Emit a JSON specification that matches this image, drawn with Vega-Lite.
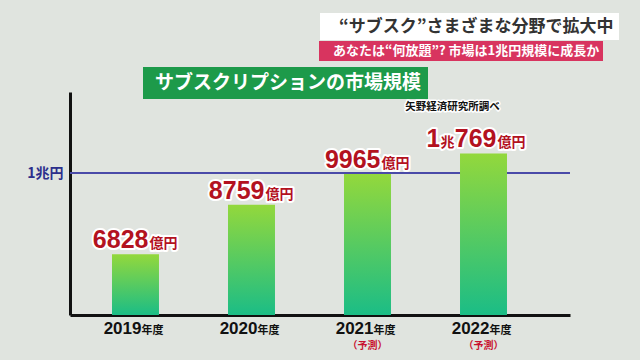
{
  "$schema": "https://vega.github.io/schema/vega-lite/v6.json",
  "width": 500,
  "height": 223,
  "autosize": "none",
  "padding": {"left": 70, "top": 92, "right": 70, "bottom": 45},
  "background": "#e0e4df",
  "config": {"view": {"stroke": null}, "font": "Noto Sans CJK JP"},
  "datasets": {
    "market": [
      {"year": "2019", "value": 6828, "num": "6828", "pre1": "", "pre2": "", "note": ""},
      {"year": "2020", "value": 8759, "num": "8759", "pre1": "", "pre2": "", "note": ""},
      {"year": "2021", "value": 9965, "num": "9965", "pre1": "", "pre2": "", "note": "（予測）"},
      {"year": "2022", "value": 10769, "num": "769", "pre1": "1", "pre2": "兆", "note": "（予測）"}
    ],
    "headers": [
      {"box": "サブスクリプションの市場規模", "head": "“サブスク”さまざまな分野で拡大中", "sub": "あなたは“何放題”? 市場は1兆円規模に成長か"}
    ],
    "source": [{"src": "矢野経済研究所調べ"}]
  },
  "data": {"name": "market"},
  "layer": [
    {
      "mark": {"type": "rule", "color": "#4a4aa8", "strokeWidth": 1.5},
      "encoding": {"y": {"datum": 10000}}
    },
    {
      "mark": {
        "type": "bar",
        "color": {"gradient": "linear", "x1": 0, "y1": 0, "x2": 0, "y2": 1,
          "stops": [{"offset": 0, "color": "#93d83c"}, {"offset": 1, "color": "#1bbd86"}]}
      },
      "encoding": {
        "x": {"field": "year", "type": "nominal", "sort": null,
          "scale": {"paddingInner": 0.595, "paddingOuter": 0.4526, "align": 0.4},
          "axis": {"labels": false, "ticks": false, "title": null, "domainColor": "#111", "domainWidth": 3}},
        "y": {"field": "value", "type": "quantitative",
          "scale": {"domain": [4450, 13170], "zero": false, "nice": false},
          "axis": {"values": [10000], "labelExpr": "'1兆円'", "ticks": false, "grid": false, "title": null,
            "domainColor": "#111", "domainWidth": 3, "labelColor": "#2c2f8c", "labelFontSize": 14,
            "labelFontWeight": "bold", "labelPadding": 7, "labelFont": "Noto Sans CJK JP"}},
        "y2": {"datum": 4450}
      }
    },
    {
      "mark": {"type": "text", "align": "right", "baseline": "alphabetic", "dx": 13, "dy": -6,
        "font": "Liberation Sans", "fontWeight": "bold", "fontSize": 25,
        "fill": "#b3121f", "stroke": "white", "strokeWidth": 4, "strokeJoin": "round"},
      "encoding": {"x": {"field": "year", "type": "nominal", "sort": null}, "y": {"field": "value", "type": "quantitative"}, "text": {"field": "num"}}
    },
    {
      "mark": {"type": "text", "align": "right", "baseline": "alphabetic", "dx": 13, "dy": -6,
        "font": "Liberation Sans", "fontWeight": "bold", "fontSize": 25, "fill": "#b3121f"},
      "encoding": {"x": {"field": "year", "type": "nominal", "sort": null}, "y": {"field": "value", "type": "quantitative"}, "text": {"field": "num"}}
    },
    {
      "mark": {"type": "text", "align": "right", "baseline": "alphabetic", "dx": -43, "dy": -6,
        "font": "Liberation Sans", "fontWeight": "bold", "fontSize": 25,
        "fill": "#b3121f", "stroke": "white", "strokeWidth": 4, "strokeJoin": "round"},
      "encoding": {"x": {"field": "year", "type": "nominal", "sort": null}, "y": {"field": "value", "type": "quantitative"}, "text": {"field": "pre1"}}
    },
    {
      "mark": {"type": "text", "align": "right", "baseline": "alphabetic", "dx": -43, "dy": -6,
        "font": "Liberation Sans", "fontWeight": "bold", "fontSize": 25, "fill": "#b3121f"},
      "encoding": {"x": {"field": "year", "type": "nominal", "sort": null}, "y": {"field": "value", "type": "quantitative"}, "text": {"field": "pre1"}}
    },
    {
      "mark": {"type": "text", "align": "right", "baseline": "alphabetic", "dx": -29, "dy": -6,
        "font": "Noto Sans CJK JP", "fontWeight": "bold", "fontSize": 14,
        "fill": "#b3121f", "stroke": "white", "strokeWidth": 4, "strokeJoin": "round"},
      "encoding": {"x": {"field": "year", "type": "nominal", "sort": null}, "y": {"field": "value", "type": "quantitative"}, "text": {"field": "pre2"}}
    },
    {
      "mark": {"type": "text", "align": "right", "baseline": "alphabetic", "dx": -29, "dy": -6,
        "font": "Noto Sans CJK JP", "fontWeight": "bold", "fontSize": 14, "fill": "#b3121f"},
      "encoding": {"x": {"field": "year", "type": "nominal", "sort": null}, "y": {"field": "value", "type": "quantitative"}, "text": {"field": "pre2"}}
    },
    {
      "mark": {"type": "text", "text": "億円", "align": "left", "baseline": "alphabetic", "dx": 14, "dy": -6,
        "font": "Noto Sans CJK JP", "fontWeight": "bold", "fontSize": 14,
        "fill": "#b3121f", "stroke": "white", "strokeWidth": 4, "strokeJoin": "round"},
      "encoding": {"x": {"field": "year", "type": "nominal", "sort": null}, "y": {"field": "value", "type": "quantitative"}}
    },
    {
      "mark": {"type": "text", "text": "億円", "align": "left", "baseline": "alphabetic", "dx": 14, "dy": -6,
        "font": "Noto Sans CJK JP", "fontWeight": "bold", "fontSize": 14, "fill": "#b3121f"},
      "encoding": {"x": {"field": "year", "type": "nominal", "sort": null}, "y": {"field": "value", "type": "quantitative"}}
    },
    {
      "mark": {"type": "text", "align": "right", "baseline": "alphabetic", "dx": 6, "dy": 19,
        "font": "Liberation Sans", "fontWeight": "bold", "fontSize": 17, "fill": "#111"},
      "encoding": {"x": {"field": "year", "type": "nominal", "sort": null}, "y": {"datum": 4450}, "text": {"field": "year"}}
    },
    {
      "mark": {"type": "text", "text": "年度", "align": "left", "baseline": "alphabetic", "dx": 6, "dy": 19,
        "font": "Noto Sans CJK JP", "fontWeight": "bold", "fontSize": 11, "fill": "#111"},
      "encoding": {"x": {"field": "year", "type": "nominal", "sort": null}, "y": {"datum": 4450}}
    },
    {
      "mark": {"type": "text", "align": "center", "baseline": "alphabetic", "dx": 0, "dy": 34,
        "font": "Noto Sans CJK JP", "fontWeight": "bold", "fontSize": 10, "fill": "#c8102e"},
      "encoding": {"x": {"field": "year", "type": "nominal", "sort": null}, "y": {"datum": 4450}, "text": {"field": "note"}}
    },
    {
      "data": {"name": "source"},
      "mark": {"type": "text", "align": "center", "baseline": "alphabetic", "dx": -31, "dy": 18,
        "font": "Noto Sans CJK JP", "fontWeight": "bold", "fontSize": 10.5,
        "fill": "#111", "stroke": "white", "strokeWidth": 3, "strokeJoin": "round"},
      "encoding": {"x": {"datum": "2022"}, "y": {"datum": 13170}, "text": {"field": "src"}}
    },
    {
      "data": {"name": "source"},
      "mark": {"type": "text", "align": "center", "baseline": "alphabetic", "dx": -31, "dy": 18,
        "font": "Noto Sans CJK JP", "fontWeight": "bold", "fontSize": 10.5, "fill": "#111"},
      "encoding": {"x": {"datum": "2022"}, "y": {"datum": 13170}, "text": {"field": "src"}}
    },
    {
      "data": {"name": "headers"},
      "mark": {"type": "point", "filled": true, "opacity": 0},
      "encoding": {
        "color": {"field": "box", "type": "nominal", "scale": {"range": ["#1d9a4a"]},
          "legend": {"title": null, "orient": "none", "legendX": 73, "legendY": -25, "fillColor": "#1d9a4a",
            "padding": 6, "symbolSize": 0, "symbolStrokeWidth": 0, "symbolOpacity": 0, "labelOffset": -13,
            "labelFontSize": 19, "labelFont": "Noto Sans CJK JP", "labelFontWeight": "bold", "labelColor": "white", "labelLimit": 0}},
        "shape": {"field": "head", "type": "nominal",
          "legend": {"title": null, "orient": "none", "legendX": 250, "legendY": -79, "fillColor": "white",
            "padding": 5, "symbolSize": 0, "symbolStrokeWidth": 0, "symbolOpacity": 0, "labelOffset": -3,
            "labelFontSize": 17, "labelFont": "Noto Sans CJK JP", "labelFontWeight": "bold", "labelColor": "#333", "labelLimit": 0}},
        "size": {"field": "sub", "type": "nominal",
          "legend": {"title": null, "orient": "none", "legendX": 249, "legendY": -51, "fillColor": "#d8345f",
            "padding": 3, "symbolSize": 0, "symbolStrokeWidth": 0, "symbolOpacity": 0, "labelOffset": -3,
            "labelFontSize": 13, "labelFont": "Noto Sans CJK JP", "labelFontWeight": "bold", "labelColor": "white", "labelLimit": 0}}
      }
    }
  ]
}
